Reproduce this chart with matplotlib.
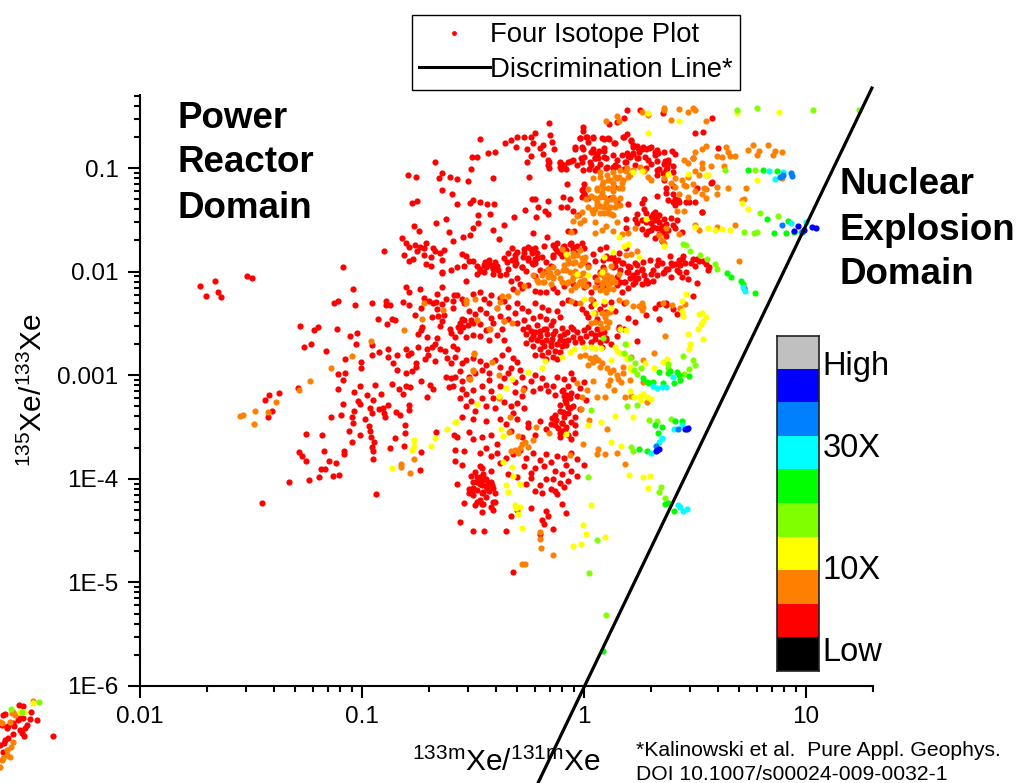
import matplotlib
matplotlib.use('Agg')
import matplotlib.pyplot as plt
import numpy as np
from matplotlib.colors import ListedColormap
from matplotlib.lines import Line2D

plt.rcParams['font.family'] = ['Liberation Sans', 'DejaVu Sans']
plt.rcParams['mathtext.fontset'] = 'custom'
plt.rcParams['mathtext.rm'] = 'Liberation Sans'
plt.rcParams['mathtext.default'] = 'regular'

# all points are (log10 133mXe/131mXe, log10 135Xe/133Xe)
red_top = [(.195,-.443),(.254,-.44),(.356,-.466),(.576,-.52),(.112,-.578),(.147,-.553),(.18,-.52),(-.158,-.569),(-.006,-.601),(-.003,-.64),
(.501,-.665),(.536,-.649),(-.467,-.723),(-.358,-.755),(-.329,-.73),(-.3,-.697),(-.269,-.697),(-.305,-.794),(-.239,-.697),(-.221,-.665),
(-.23,-.762),(-.257,-.82),(-.186,-.778),(-.198,-.81),(-.155,-.684),(-.146,-.752),(-.135,-.816),(-.186,-.865),(-.24,-.884),(-.257,-.939),
(-.431,-.858),(-.403,-.849),(-.506,-.89),(-.481,-.89),(-.673,-.939),(-.509,-1.013),(-.641,-1.051),(-.652,-1.096),(-.602,-1.09),(-.571,-1.103),
(-.523,-1.125),(-.41,-1.096),(-.248,-1.083),(-.794,-1.07),(-.758,-1.087),(-.641,-1.212),(-.596,-1.254),(-.776,-1.341),(-.751,-1.315),(-.574,-1.347),
(-.512,-1.341),(-.499,-1.309),(-.469,-1.325),(-.436,-1.347),(-.404,-1.347),(-.236,-1.302),(-.221,-1.302),(-.161,-1.318),(-.209,-1.373),(-.266,-1.405),
(-.174,-1.412),(-.164,-1.447),(-.314,-1.47),(-.216,-1.473),(-.093,-1.283),(-.063,-1.302),(-.105,-1.373),(-.078,-1.373),(-.051,-1.412),(-.029,-1.453),
(-.479,-1.457),(-.425,-1.447),(-.622,-1.495),(-.665,-1.534),(-.479,-1.534),(-.766,-1.56),(-.745,-1.611),(-.607,-1.618),(-.412,-1.598),(-.359,-1.55),
(-.499,-1.582),(-.515,-1.65),(-.544,-1.669),(-.592,-1.701),(-.383,-1.682),(-.231,-1.624),(-.168,-1.663),(-.074,-1.611),(-.045,-1.611)]
red_upper_dense = [(-.02,-.71),(.01,-.7),(.04,-.71),(-.04,-.8),(-.01,-.8),(.04,-.82),(.08,-.71),(.11,-.71),(.14,-.76),(.18,-.7),
(.21,-.73),(.22,-.8),(.24,-.79),(.26,-.82),(.22,-.86),(.25,-.85),(.28,-.82),(.3,-.8),(.33,-.83),(.36,-.85),(.32,-.87),(.24,-.9),(.2,-.88),
(.17,-.87),(.13,-.87),(.09,-.84),(.06,-.86),(.03,-.85),(.0,-.89),(.05,-.9),(.1,-.9),(.15,-.92),(.19,-.94),(.23,-.97),(.29,-.92),(.33,-.93),(.36,-.96),
(.38,-.95),(.4,-.98),(.37,-1.02),(.4,-1.04),(.34,-1.01),(.28,-1.0),(.14,-.97),(.07,-.96),(.03,-.97),(-.03,-.97),(-.06,-.93),(-.09,-.97),(-.11,-.94),
(-.16,-.92),(-.16,-.97),(-.11,-.99),(-.08,-1.01),(-.01,-.94),(.06,-1.0),(.1,-1.0),(.13,-1.0),(.18,-1.01),(.41,-.86),(.33,-1.07),(.36,-1.12),(.4,-1.17),
(.37,-1.24),(.57,-1.14),(.51,-1.19),(.0,-1.15),(-.01,-1.21),(.0,-1.25),(.02,-1.29),(.15,-1.33),(.2,-1.35),(.26,-1.34),(.27,-1.3),(.33,-1.27),(.38,-1.31),
(.41,-1.3),(.43,-1.33),(.46,-1.33),(.5,-1.33),(.53,-1.42),(.27,-1.4),(.24,-1.44),(.23,-1.49),(.24,-1.53),(.19,-1.49),(.19,-1.58),(.26,-1.59),(.29,-1.61)]
red_upper_extra = [(-.018,-.714),(.012,-.698),(.019,-.746),(.042,-.704),(.09,-.723),(.114,-.723),(.135,-.762),(.177,-.698),(.192,-.675),(.214,-.736),(.222,-.778),(-.041,-.82),(-.006,-.82),
(.042,-.849),(.067,-.833),(.09,-.81),(.091,-.891),(.065,-.907),(.049,-.9),(.026,-.939),(-.014,-.9),(-.071,-.939),(-.049,-.923),(-.109,-.955),(-.094,-.972),(-.158,-.939),(-.158,-.997),(-.104,-1.01),
(-.006,-1.02),(.024,-1.013),(.049,-1.02),(.102,-.988),(.132,-.988),(.155,-.994),(.185,-.939),(.207,-.891),(.192,-.859),(.222,-.859),(.245,-.81),(.267,-.794),(.294,-.81),(.32,-.843),(.335,-.859),
(.245,-.907),(.275,-.891),(.3,-.962),(.328,-1.02),(.365,-.933),(.38,-.923),(.398,-.836),(.492,-.907),(.372,-1.004),(.357,-1.052),(.369,-1.197),(.4,-1.251),(.425,-1.31),(.474,-1.326),(.53,-1.422),
(.402,-1.326),(.41,-1.358),(.605,-.81),(.575,-1.139),(-.003,-1.207),(.002,-1.251),(-.075,-1.158),(.136,-1.18),(.117,-1.293),(-.011,-1.284)]
red_blob_a = [(.28,-1.43),(.3,-1.47),(.32,-1.42),(.34,-1.45),(.3,-1.53),(.32,-1.5),(.34,-1.52),(.36,-1.49),(.28,-1.52),(.26,-1.5),
(.31,-1.57),(.33,-1.58),(.35,-1.56),(.37,-1.54),(.3,-1.6),(.34,-1.64),(.36,-1.62),(.38,-1.6),(.32,-1.68),(.35,-1.7),(.39,-1.48),(.42,-1.5),(.4,-1.55),
(.41,-1.58),(.44,-1.62),(.28,-1.64),(.33,-1.47),(.31,-1.44),(.35,-1.6),(.37,-1.66)]
red_middle = [(-.82,-1.68),(-.8,-1.72),(-.79,-1.76),(-.76,-1.74),(-.74,-1.76),(-.72,-1.77),(-.71,-1.72),(-.68,-1.77),(-.67,-1.8),(-.63,-1.79),
(-.81,-1.84),(-.79,-1.9),(-.77,-1.88),(-.75,-1.8),(-.72,-1.84),(-.69,-1.86),(-.65,-1.82),(-.64,-1.89),(-.71,-1.93),(-.69,-1.95),(-.64,-2.0),(-.6,-1.98),
(-.55,-1.83),(-.53,-1.85),(-.52,-1.9),(-.5,-1.9),(-.54,-1.95),(-.48,-1.95),(-.47,-1.99),(-.45,-2.0),(-.43,-1.93),(-.41,-1.96),(-.39,-1.95),(-.45,-1.94),
(-.48,-2.02),(-.41,-2.02),(-.38,-2.03),(-.35,-2.02),(-.34,-1.97),(-.36,-1.87),(-.31,-1.88),(-.3,-1.81),(-.34,-1.82),(-.31,-1.94),(-.28,-1.96),(-.26,-1.99),
(-.23,-1.93),(-.22,-1.88),(-.25,-1.87),(-.27,-1.82),(-.21,-1.82),(-.24,-1.78),(-.27,-1.78),(-.22,-1.92),(-.19,-1.86),(-.18,-1.75),(-.14,-1.74),(-.13,-1.77),
(-.12,-1.8),(-.09,-1.75),(-.08,-1.79),(-.06,-1.72),(-.05,-1.76),(-.04,-1.82),(-.03,-1.75),(.0,-1.77),(-.1,-1.85),(-.14,-1.84),(-.17,-1.91),(-.2,-1.98),
(-.22,-2.04),(-.17,-1.99),(-.15,-1.95),(-.12,-2.0),(-.3,-2.06),(-.33,-2.09),(-.29,-2.12),(-.28,-2.16),(-.32,-2.17),(-.25,-2.13),(-.22,-2.19),(-.2,-2.2),
(-.17,-2.2),(-.14,-2.16),(-.12,-2.2),(-.09,-2.14),(-.05,-2.12),(-.02,-2.1),(.0,-2.15),(.02,-2.12),(.05,-2.05),(.06,-2.1),(.09,-2.13),(.03,-2.2),(.07,-2.16),
(.04,-1.83),(.07,-1.78),(.1,-1.76),(.1,-1.85),(.12,-1.87),(.14,-1.9),(.16,-1.82),(.19,-1.77),(.14,-1.95),(.05,-1.9),(.02,-1.94),(.17,-1.92),(.2,-1.95),
(.2,-2.0),(.23,-1.92),(.24,-2.0),(.26,-1.97),(.27,-2.03),(.23,-2.06),(.28,-2.08),(.26,-2.12),(.22,-2.12),(.2,-2.16),(.18,-2.1),(.15,-2.13),(.17,-2.2),
(.3,-2.02),(.33,-1.94),(.35,-1.92),(.37,-1.97),(.39,-1.92),(.41,-1.93),(.43,-1.89),(.36,-2.0),(.39,-2.05),(.33,-2.03),(.31,-2.09),(.38,-1.97),(.48,-1.92),
(.46,-2.0),(.43,-2.0),(.5,-1.95),(.52,-1.9),(.55,-1.93),(.56,-1.98),(.44,-2.05),(.47,-2.07),(.49,-1.88),(.51,-2.11),(.49,-2.24),(.72,-2.16),(.44,-1.88)]
red_middle_extra = [(-.469,-1.97),(-.446,-1.905),(-.427,-1.889),(-.401,-1.905),(-.424,-1.937),(-.409,-1.97),(-.442,-1.954),(-.386,-1.986),(-.349,-1.905),(-.326,-1.889),(-.304,-1.921),(-.281,-1.954),(-.311,-1.84),
(-.326,-1.776),(-.251,-1.76),(-.236,-1.825),(-.221,-1.776),(-.213,-1.873),(-.236,-1.921),(-.273,-1.857),(-.251,-1.889),(-.123,-1.728),(-.093,-1.76),(-.063,-1.735),(-.048,-1.793),(-.011,-1.728),(-.108,-1.825),(-.138,-1.857),
(.087,-1.889),(.109,-1.873),(.132,-1.857),(.155,-1.889),(.177,-1.921),(.207,-1.954),(.237,-1.937),(.267,-1.905),(.297,-1.889),(.335,-1.889),(.132,-1.954),(.162,-1.986),(.192,-2.002),(.222,-2.034),(.245,-2.066),(.26,-1.986),
(.207,-2.066),(.185,-2.098),(.229,-2.098),(.162,-2.098),(.147,-2.05),(.087,-1.954),(.072,-2.002),(.29,-2.098),(.282,-2.114),(.312,-1.986),(.357,-2.018),(.417,-1.986),(.455,-1.921),(.395,-1.937),(.432,-1.937),(.507,-1.881),
(.534,-1.896),(.563,-1.954),(.387,-1.851),(.447,-1.851)]
red_lower_mid = [(-.8,-2.15),(-.79,-2.2),(-.74,-2.17),(-.72,-2.25),(-.7,-2.28),(-.68,-2.3),(-.66,-2.22),(-.62,-2.26),(-.66,-2.36),(-.63,-2.42),
(-.59,-2.35),(-.57,-2.23),(-.55,-2.26),(-.54,-2.3),(-.5,-2.22),(-.47,-2.2),(-.45,-2.26),(-.43,-2.3),(-.42,-2.23),(-.38,-2.25),(-.36,-2.28),(-.34,-2.34),
(-.3,-2.3),(-.28,-2.35),(-.25,-2.38),(-.22,-2.3),(-.19,-2.34),(-.16,-2.37),(-.12,-2.38),(-.1,-2.3),(-.07,-2.27),(-.04,-2.3),(-.01,-2.36),(.01,-2.4),(.03,-2.33),
(.04,-2.28),(.07,-2.36),(.09,-2.31),(.12,-2.29),(.1,-2.39),(.14,-2.38),(.18,-2.3),(-.52,-2.38),(-.49,-2.41),(-.47,-2.36),(-.44,-2.4),(-.42,-2.45),(-.38,-2.43),
(-.56,-2.5),(-.54,-2.47),(-.5,-2.5),(-.47,-2.51),(-.44,-2.56),(-.41,-2.5),(-.37,-2.55),(-.39,-2.61),(-.36,-2.66),(-.43,-2.66),(-.47,-2.62),(-.5,-2.61),(-.53,-2.63),
(-.56,-2.57),(-.6,-2.59),(-.31,-2.4),(-.34,-2.46),(-.3,-2.5),(-.27,-2.47),(-.23,-2.45),(-.2,-2.43),(-.17,-2.46),(-.14,-2.48),(-.11,-2.44),(.02,-2.44),(.06,-2.46),
(.02,-2.53),(.06,-2.55),(.09,-2.58),(.05,-2.61),(.1,-2.64),(.16,-2.53),(.2,-2.45),(.23,-2.49),(.28,-2.42),(.32,-2.35),(.37,-2.32),(.34,-2.46),(.37,-2.3),(.34,-2.31),
(.4,-2.36),(.42,-2.41)]
red_core = [(-.274,-2.55),(-.26,-2.6),(-.25,-2.53),(-.24,-2.65),(-.22,-2.58),(-.21,-2.52),(-.2,-2.62),(-.19,-2.68),(-.18,-2.55),(-.165,-2.6),(-.15,-2.52),(-.145,-2.65),
(-.13,-2.57),(-.12,-2.7),(-.11,-2.62),(-.1,-2.54),(-.09,-2.67),(-.075,-2.58),(-.06,-2.53),(-.05,-2.63),(-.26,-2.69),(-.24,-2.57),(-.23,-2.72),(-.21,-2.66),(-.2,-2.75),
(-.18,-2.72),(-.17,-2.66),(-.16,-2.78),(-.15,-2.72),(-.14,-2.82),(-.13,-2.77),(-.11,-2.78),(-.1,-2.72),(-.12,-2.84),(-.17,-2.84),(-.19,-2.8),(-.22,-2.8),(-.09,-2.6),
(-.07,-2.66),(-.05,-2.55),(-.03,-2.58),(-.02,-2.64),(.0,-2.56),(.01,-2.62),(.03,-2.59),(.05,-2.65),(.07,-2.6),(.07,-2.68),(.03,-2.68),(-.01,-2.68),(-.04,-2.68),(-.14,-2.6),
(-.17,-2.55),(-.2,-2.57),(-.23,-2.62),(-.11,-2.66),(-.15,-2.69),(-.08,-2.71),(.1,-2.66),(.12,-2.7),(.15,-2.62),(.16,-2.55),(.18,-2.55),(.24,-2.67),(.08,-2.73)]
red_lowerleft = [(-1.731,-2.136),(-1.664,-2.087),(-1.65,-2.194),(-1.703,-2.239),(-1.635,-2.245),(-1.52,-2.039),(-1.497,-2.065),(-1.084,-1.952),(-.9,-1.798),(-1.039,-2.168),
(-1.125,-2.3),(-1.107,-2.284),(-1.032,-2.322),(-.955,-2.3),(-.892,-2.28),(-.893,-2.322),(-.874,-2.322),(-.817,-2.293),(-.788,-2.319),(-.668,-2.297),(-.641,-2.313),(-.736,-2.355),
(-.761,-2.419),(-.93,-2.457),(-.866,-2.457),(-.851,-2.467),(-.889,-2.509),(-.686,-2.435),(-.656,-2.429),(-.641,-2.474),(-.649,-2.525),(-.728,-2.538),(-.736,-2.564),(-.746,-2.605),
(-.706,-2.634),(-.664,-2.644),(-1.279,-2.525),(-1.216,-2.564),(-1.197,-2.538),(-1.114,-2.557),(-1.054,-2.618),(-1.024,-2.596),(-1.26,-2.724),(-1.231,-2.702),(-1.162,-2.763),(-1.027,-2.702),
(-.955,-2.712),(-.957,-2.808),(-.924,-2.779),(-.882,-2.744),(-.882,-2.827),(-.844,-2.808),(-.803,-2.747),(-1.078,-2.847),(-1.005,-2.872),(-1.005,-2.927),(-1.11,-2.988),(-1.075,-2.975),
(-1.084,-3.046),(-.859,-2.885),(-.842,-2.946),(-.803,-2.975),(-.776,-2.959),(-.758,-2.885),(-.757,-2.924),(-.791,-2.805),(-.781,-2.789),(-.746,-2.731),(-.716,-2.847),(-.701,-2.805),
(-.709,-2.75),(-.686,-2.724),(-.671,-2.702),(-.649,-2.75),(-.626,-2.763),(-.671,-2.86),(-.619,-2.837),(-.589,-2.718),(-.57,-2.75),(-.581,-2.628),(-.604,-2.557),(-.566,-2.538),(-.544,-2.531),
(-.521,-2.519),(-.548,-2.461),(-.51,-2.47),(-.586,-2.226),(-.592,-2.284),(-.641,-2.145),(-.641,-2.017),(-.574,-1.959),(-.53,-2.09),(-1.287,-3.127),(-1.419,-3.188),(-1.372,-3.175),(-1.437,-3.239),
(-1.404,-3.345),(-1.424,-3.4),(-1.14,-3.406),(-1.095,-3.387),(-1.087,-3.278),(-1.11,-3.133),(-1.038,-3.159),(-1.009,-3.101),(-.942,-3.091),(-.866,-3.085),(-.832,-3.136),(-.803,-3.104),(-.784,-3.114),
(-.814,-3.181),(-.734,-3.053),(-.694,-3.091),(-.682,-3.136),(-.709,-3.21),(-.623,-3.014),(-.607,-3.11),(-.976,-3.191),(-.952,-3.239),(-.916,-3.184),(-1.02,-3.252),(-1.009,-3.281),(-1.035,-3.342),
(-1.044,-3.4),(-1.041,-3.464),(-1.057,-3.538),(-1.008,-3.58),(-.985,-3.426),(-.967,-3.49),(-.964,-3.535),(-.961,-3.593),(-.945,-3.648),(-.957,-3.69),(-.952,-3.728),(-.952,-3.809),(-1.047,-3.644),
(-1.182,-3.574),(-1.251,-3.571),(-1.282,-3.738),(-1.27,-3.776),(-1.254,-3.831),(-1.173,-3.735),(-1.081,-3.731),(-1.08,-3.76),(-1.147,-3.831),(-1.119,-3.844),(-1.165,-3.902),(-1.185,-3.902),(-1.195,-3.982),
(-1.237,-4.011),(-1.329,-4.027),(-1.132,-3.969),(-1.102,-3.963),(-1.452,-4.236),(-.936,-4.143),(-.964,-3.32),(-.957,-3.361),(-.922,-3.329),(-.904,-3.32),(-.884,-3.287),(-.901,-3.368),(-.895,-3.406),
(-.847,-3.352),(-.829,-3.384),(-.787,-3.291),(-.79,-3.336),(-.808,-3.484),(-.806,-3.555),(-.85,-3.603),(-.809,-3.683),(-.874,-3.702),(-.734,-3.738),(-.668,-3.551),(-.584,-3.574),(-.739,-3.915)]
red_center_low = [(-.6,-2.88),(-.58,-2.82),(-.55,-2.88),(-.53,-2.85),(-.5,-2.83),(-.47,-2.86),(-.44,-2.9),(-.43,-2.98),(-.46,-2.95),(-.49,-2.98),(-.52,-3.02),(-.55,-3.06),(-.58,-3.02),(-.56,-2.96),
(-.6,-3.03),(-.59,-3.1),(-.55,-3.13),(-.53,-3.18),(-.5,-3.14),(-.46,-3.1),(-.43,-3.05),(-.42,-3.15),(-.38,-3.1),(-.36,-3.03),(-.34,-2.98),(-.38,-2.92),(-.4,-2.85),(-.37,-2.8),(-.34,-2.75),(-.32,-2.83),
(-.3,-2.87),(-.33,-2.93),(-.29,-2.95),(-.28,-3.02),(-.31,-3.07),(-.27,-3.12),(-.31,-3.16),(-.28,-3.2),(-.24,-3.06),(-.22,-3.0),(-.19,-3.03),(-.17,-3.09),(-.2,-3.12),(-.23,-3.15),(-.16,-3.15),(-.14,-3.1),
(-.12,-3.02),(-.09,-3.04),(-.06,-2.98),(-.05,-3.04),(-.07,-3.1),(-.1,-3.15),(-.13,-3.19),(-.09,-3.2),(-.06,-3.17),(-.02,-3.12),(.0,-3.07),(-.03,-3.2),(.01,-3.24),(-.08,-3.27),(-.05,-3.3),(-.07,-3.36),(-.04,-3.4),
(-.02,-3.33),(-.09,-3.4),(-.11,-3.35),(-.13,-3.42),(-.1,-3.46),(-.06,-3.45),(-.08,-3.5),(-.04,-3.48),(-.1,-3.54),(-.07,-3.58),(-.11,-3.6),(-.04,-3.56),(-.06,-3.62),(-.2,-3.44),(-.25,-3.46),(-.17,-3.52),(-.15,-3.47),
(-.41,-3.22),(-.46,-3.22),(-.51,-3.25),(-.56,-3.22),(-.53,-3.3),(-.49,-3.35),(-.44,-3.3),(-.4,-3.32),(-.36,-3.26),(-.33,-3.3),(-.3,-3.27),(-.27,-3.32),(-.32,-3.36),(-.38,-3.42),(-.44,-3.44),(-.5,-3.42),(-.55,-3.4),
(-.35,-3.47),(-.3,-3.42),(-.25,-3.5),(-.22,-3.58),(-.28,-3.6),(-.33,-3.54),(-.42,-3.58),(-.39,-3.66),(-.46,-3.6),(-.52,-3.55),(-.57,-3.6),(-.58,-3.72),(-.54,-3.73),(-.5,-3.62),
(-.094,-3.143),(-.079,-3.191),(-.063,-3.223),(-.086,-3.239),(-.071,-3.303),(-.108,-3.287),(-.094,-3.352),(-.063,-3.32),(-.131,-3.384),(-.146,-3.416),(-.124,-3.432),(-.101,-3.464),(-.116,-3.513),(-.131,-3.48),(-.108,-3.561),(-.086,-3.529)]
red_bottom = [(-.47,-3.75),(-.44,-3.7),(-.42,-3.78),(-.39,-3.75),(-.35,-3.8),(-.32,-3.76),(-.29,-3.72),(-.26,-3.8),(-.23,-3.75),(-.2,-3.82),(-.17,-3.76),(-.15,-3.84),(-.12,-3.78),(-.09,-3.8),(-.06,-3.75),(-.03,-3.81),(.0,-3.87),(-.08,-3.87),
(-.18,-3.88),(-.22,-3.9),(-.27,-3.88),(-.24,-3.94),(-.13,-3.92),(-.1,-3.95),(-.06,-3.92),(-.03,-3.97),(-.14,-4.0),(-.11,-4.04),(-.07,-4.02),(-.09,-4.08),(-.17,-4.0),(-.2,-4.06),(-.26,-4.05),(-.22,-4.12),(-.15,-4.1),(-.12,-4.15),
(-.19,-4.14),(-.24,-3.99),(-.3,-3.98),(-.34,-3.95),(-.38,-3.85),(-.42,-3.92),(-.44,-4.0),(-.47,-3.88),(-.49,-3.93),(-.51,-3.97),(-.48,-3.98),(-.46,-4.01),(-.5,-4.03),(-.47,-4.05),(-.44,-4.07),(-.42,-4.03),(-.5,-4.09),(-.52,-4.1),
(-.48,-4.11),(-.46,-4.14),(-.43,-4.12),(-.41,-4.09),(-.4,-4.14),(-.44,-4.18),(-.47,-4.2),(-.5,-4.16),(-.52,-4.14),(-.49,-4.25),(-.46,-4.24),(-.42,-4.27),(-.4,-4.22),(-.54,-4.23),(-.57,-4.05),(-.46,-4.32),(-.41,-4.3),
(-.24,-4.28),(-.17,-4.31),(-.16,-4.36),(-.19,-4.4),(-.18,-4.44),(-.14,-4.48),(-.2,-4.53),(-.35,-4.5),(-.45,-4.5),(-.3,-4.3),(-.1,-4.24),(-.08,-4.33),(-.5,-4.5),(-.33,-4.36),(-.13,-4.12),(-.58,-3.83),(-.55,-3.87),(-.56,-4.42),(-.32,-4.9),
(-.461,-3.9),(-.454,-3.95),(-.469,-3.98),(-.446,-4.0),(-.431,-4.03),(-.416,-4.06),(-.484,-4.03),(-.461,-4.06),(-.439,-4.09),(-.506,-4.12),(-.457,-4.13),(-.484,-4.22),(-.454,-4.24),(-.409,-4.22)]
orange_levels = [(.132,-1.148),(.1,-1.34),(.11,-1.12),(.08,-1.16),(.06,-1.19),(.16,-1.09),(.19,-1.03),(.14,-1.09),(.17,-1.14),(.08,-1.24),(.11,-1.19),(.13,-1.22),(.05,-1.29),(.03,-1.27),(.02,-1.2),
(.01,-1.3),(.09,-1.28),(.06,-1.33),(.12,-1.3),(.14,-1.38),(.11,-1.4),(.09,-1.43),(.05,-1.4),(.02,-1.38),(.14,-1.31),(-.01,-1.42),(-.03,-1.46),(.07,-1.37),(.12,-1.44),(.0,-1.5),(.05,-1.52),(.1,-1.56),(.08,-1.6),(.05,-1.63),
(.15,-1.52),(.13,-1.61),(.17,-1.64),(.2,-1.63),(.23,-1.58),(.04,-1.43),(.16,-1.19),(.2,-1.09),(-.05,-1.51),(-.02,-1.53),(-.06,-1.62),(.27,-1.03),(.29,-1.09),(.3,-1.12),(.36,-1.1),(.39,-1.14),(.41,-1.1),(.44,-1.12),
(.47,-1.09),(.5,-1.03),(.52,-1.07),(.49,-1.15),(.46,-1.17),(.41,-1.18),(.43,-1.25),(.47,-1.28),(.45,-1.16),(.54,-1.19),(.55,-1.2),(.53,-1.25),(.5,-1.22),(.6,-1.25),(.45,-.92),(.47,-.95),(.49,-.9),(.53,-.82),(.5,-.85),
(.55,-.79),(.53,-.95),(.53,-1.0),(.57,-.98),(.64,-.8),(.65,-.85),(.62,-.89),(.6,-.88),(.66,-.88),(.68,-.88),(.76,-.78),(.83,-.78),(.86,-.84),(.85,-.87),(.89,-.85),(.74,-.83),(.78,-.87),(.79,-.84),(.55,-1.29),(.6,-1.18),
(.65,-1.19),(.73,-1.19),(.72,-1.3),(.63,-.98),(.36,-.42),(.43,-.43),(.47,-.46),(.49,-.42),(.5,-.44),(.36,-.44),(.29,-.49),(.39,-.54),(.26,-.46),(.55,-.55),(.15,-.5),(.1,-.55),(.16,-.55),(.89,-1.1),(.7,-1.9),(.71,-1.31),(.68,-1.55),
(.6,-1.57),(.52,-1.6),(.43,-1.64),(.37,-1.58),(.42,-1.41),(.45,-1.41),(.5,-1.55),(.34,-1.65),(.35,-1.69),(.36,-1.72),
(.072,-1.084),(.102,-1.068),(.132,-1.036),(.162,-1.02),(.192,-1.004),(.222,-1.02),(.252,-.988),(.087,-1.133),(.117,-1.116),(.147,-1.1),(.177,-1.116),(.207,-1.068),(.057,-1.213),(.087,-1.197),(.132,-1.18),(.17,-1.197),
(.072,-1.277),(.102,-1.31),(.132,-1.277),(.162,-1.293),(.057,-1.358),(.087,-1.374),(.117,-1.374),(.147,-1.358),(.035,-1.406),(.072,-1.432),(.109,-1.432),(.132,-1.455),(.162,-1.358),(.042,-1.1),(.072,-1.036)]
orange_middle = [(-.048,-1.92),(-.153,-2.016),(.102,-2.08),(-.03,-1.84),(-.05,-1.85),(-.01,-1.87),(.0,-1.9),(-.07,-1.89),(-.09,-1.94),(-.02,-1.94),(.02,-1.96),(-.04,-1.99),(-.08,-1.98),(-.12,-2.0),(-.16,-1.97),(-.19,-2.03),(-.21,-2.08),
(-.23,-2.03),(-.14,-2.05),(-.11,-2.06),(-.05,-2.05),(-.02,-2.03),(.0,-2.08),(-.07,-2.1),(-.1,-2.1),(.01,-2.14),(-.03,-2.13),(-.06,-2.18),(-.15,-2.12),(-.18,-2.1),(.07,-2.02),(.09,-1.98),(.12,-1.95),(.09,-2.05),(.12,-2.05),
(.06,-2.08),(.08,-2.12),(.11,-2.13),(.14,-2.1),(.07,-2.18),(.1,-2.2),(.13,-2.17),(.05,-2.15),(-.27,-2.14),(-.3,-2.2),(-.34,-2.24),(-.37,-2.24),(.16,-2.02),(.19,-1.84),(.24,-1.8),(.21,-1.83),(-.1,-1.78),(.03,-2.26),(-.06,-2.28),
(-.02,-2.3),(.16,-2.27),(.19,-2.29),(.26,-2.3),(.22,-2.33),(.25,-2.33),(.26,-2.37),(-.38,-2.29),(-.72,-2.3),(-.48,-2.47),(-.49,-2.26),(-.53,-2.27),(.07,-2.5),(.05,-2.4),(.03,-2.5),(.1,-2.48),(.08,-2.4),
(-.184,-2.018),(-.161,-1.986),(-.138,-1.954),(-.123,-2.002),(-.161,-2.05),(-.184,-2.098),(-.207,-2.098),(-.138,-2.066),(-.078,-1.857),(-.048,-1.825),(-.018,-1.793),(.004,-1.857),(-.071,-1.921),(-.041,-1.905),(-.011,-1.921),
(-.063,-2.002),(-.033,-2.034),(-.003,-2.018),(-.056,-2.082),(-.018,-2.098),(-.078,-2.114),(-.041,-2.147),(-.003,-2.13),(-.093,-1.986),(.102,-2.034),(.087,-2.098),(.117,-2.114),(.109,-2.163),(.132,-2.082),(.079,-2.163)]
orange_low = [(-.823,-3.857),(-.823,-3.889),(-.766,-3.809),(-.784,-3.947),(-1.55,-3.394),(-1.536,-3.387),(-1.484,-3.345),(-1.487,-3.471),(-1.422,-3.352),(-1.387,-3.255),(-1.285,-3.146),(-1.234,-3.053),(-1.14,-2.934),(-1.044,-2.811),(-.961,-2.673),
(-.812,-2.564),(-.73,-2.461),(-.637,-2.374),(-.532,-2.3),(-.393,-2.355),(-.36,-2.474),(-.427,-2.557),(-.496,-2.789),(-.499,-2.956),(-.517,-3.037),(-.394,-2.354),(-.361,-2.473),(-.322,-2.499),(-.424,-2.557),(-.496,-2.795),(-.413,-2.869),
(-.499,-2.95),(-.514,-3.033),(-.383,-2.998),(-.274,-3.143),(-.383,-3.223),(-.334,-3.4),(-.337,-3.545),(-.296,-3.583),(-.229,-3.625),(-.157,-3.561),(-.214,-3.503),(-.329,-3.728),(-.311,-3.722),(-.289,-3.706),(-.278,-3.664),(-.266,-3.641),
(-.296,-3.754),(-.254,-3.696),(-.063,-3.77),(-.003,-3.664),(-.015,-3.326),(.024,-3.432),(.105,-3.522),(.057,-3.76),(.063,-3.715),(.094,-3.76),(.15,-3.747),(.184,-3.857),(-.196,-4.513),(-.2,-4.584),(-.194,-4.671),(-.139,-4.732),(-.281,-4.822),
(-.266,-4.822),(.364,-2.618),(.316,-2.789),(.282,-3.255),(-.018,-2.815),(.004,-2.805),(.027,-2.837),(.042,-2.869),(.064,-2.853),(.079,-2.885),(.102,-2.934),(.132,-2.95),(.177,-2.975),(.154,-3.04),(.117,-3.046),(.109,-3.094),(.042,-3.056),
(.012,-3.143),(-.011,-3.207),(.057,-3.207),(.094,-3.207),(.135,-3.143),(.184,-3.213),(.214,-3.2),(.207,-3.046),(.177,-2.917),(.214,-2.821),(.267,-2.853),(.264,-3.062),(-.033,-3.078),(.05,-2.821),(.072,-2.917),(.117,-2.966),(.147,-2.998),
(.169,-3.062),(.019,-2.902),(.102,-2.403),(.117,-2.387),(.094,-2.435),(.114,-2.483),(.104,-2.53),(.049,-2.483),(.079,-2.548),(.267,-2.338),(.357,-2.306),(.395,-2.322),(.432,-2.354),(.455,-2.313)]
yellow_pts = [(.518,-2.409),(.537,-2.477),(.525,-2.506),(.515,-2.557),(.468,-2.605),(.537,-2.654),(.477,-2.702),(.474,-2.744),(.443,-2.377),(.447,-2.428),(.162,-2.551),(.189,-2.564),(.142,-2.724),(.147,-2.763),(.192,-2.699),(.162,-2.782),
(.184,-2.805),(.192,-2.847),(.12,-2.853),(.001,-2.724),(.03,-2.724),(.049,-2.734),(.076,-2.74),(-.044,-2.747),(-.063,-2.773),(-.098,-2.821),(-.176,-2.863),(-.188,-2.934),(-.254,-2.972),(-.326,-3.04),(-.352,-3.127),(-.383,-3.197),(-.481,-3.281),
(-.58,-3.448),(-.374,-3.516),(-.364,-3.587),(-.367,-3.841),(-.323,-3.883),(-.319,-3.973),(-.353,-4.063),(-.286,-4.053),(-.34,-4.124),(-.311,-4.252),(-.304,-4.285),(-.289,-4.275),(-.299,-4.343),(-.277,-4.478),(.03,-4.249),(-.006,-4.442),(.009,-4.536),
(-.012,-4.629),(-.051,-4.645),(.094,-4.558),(.202,-3.96),(.267,-3.979),(.298,-3.973),(.289,-4.092),(.169,-3.683),(.124,-3.648),(.019,-3.477),(.078,-3.455),(.138,-3.397),(-.083,-3.567),(.219,-3.4),(.252,-3.2),(.267,-3.184),(.259,-3.239),
(.282,-3.213),(.301,-3.229),(.226,-3.207),(.207,-3.149),(.315,-2.934),(.354,-2.869),(.372,-2.84),(.274,-2.885),(.207,-2.917),(.214,-2.95),(-.764,-3.622),(-.766,-3.68),(-.773,-3.722),(-.691,-3.683),(-.673,-3.606),(-.616,-3.522),(-.578,-3.448),(-.864,-3.895),
(.29,-.47),(.43,-.55),(.69,-.47),(.88,-.46),(.29,-.66),(.38,-1.06),(.47,-1.06),(.55,-1.07),(.56,-1.07),(.26,-1.03),(.22,-1.04),(.78,-1.12),(.71,-1.34),(.74,-1.4),(.5,-1.57),(.56,-1.58),(.59,-1.6),(.66,-1.6),(.62,-1.59),(.28,-1.49),
(.25,-1.86),(.18,-1.75),(.2,-1.73),(.36,-1.75),(.13,-1.81),(.09,-1.86),(-.08,-1.83),(-.03,-2.02),(.02,-2.03),(.0,-2.26),(.05,-2.31),(.09,-2.28),(.12,-2.35),(.04,-2.4),(.46,-2.22),(.44,-2.28),(.53,-2.4),(.55,-2.44),(.08,-2.0),(.16,-1.67)]
lime_pts = [(.689,-.437),(.781,-.421),(1.033,-.44),(1.24,-.437),(.636,-1.019),(.77,-1.019),(.793,-1.437),(.875,-1.466),(.722,-1.621),(.767,-1.627),(.781,-1.621),(.444,-1.73),(.458,-1.74),(.477,-1.804),(.522,-1.836),(.554,-1.881),(.591,-1.926),(.599,-1.975),
(.031,-3.332),(.192,-3.3),(.24,-3.287),(.291,-3.432),(.327,-3.439),(.394,-3.426),(.211,-3.696),(.222,-3.731),(.019,-3.979),(.345,-4.075),(.339,-4.13),(.364,-4.188),(.06,-4.59),(.021,-4.909),(.447,-2.811),(.492,-2.853),(.5,-2.901),(.474,-2.94),(.452,-2.988),
(.377,-2.892),(.379,-2.934),(.229,-2.885),(.259,-2.934),(.237,-2.988),(.184,-2.699),(.087,-2.644),(.18,-2.789),(.207,-2.831),(.226,-2.95),(.1,-5.31)]
green_pts = [(.739,-1.019),(.808,-1.022),(.871,-1.026),(.823,-1.489),(.919,-1.508),(.857,-1.627),(.91,-1.624),(.947,-1.621),(.645,-2.016),(.664,-2.055),(.707,-2.09),(.718,-2.119),(.77,-2.206),(.267,-3.03),(.285,-3.062),(.312,-3.062),(.291,-3.078),(.337,-2.966),
(.379,-2.982),(.387,-2.956),(.417,-2.966),(.428,-2.998),(.432,-3.046),(.405,-3.072),(.354,-3.078),(.473,-3.004),(.41,-3.445),(.443,-3.442),(.319,-3.477),(.352,-3.496),(.334,-3.554),(.247,-3.712),(.282,-3.728),(.364,-4.246),(.379,-4.23),(.405,-4.307),(.086,-5.66)]
cyan_pts = [(.405,-3.516),(.44,-3.484),(.352,-3.609),(.339,-3.641),(.3,-3.754),(.312,-3.104),(.327,-3.127),(.352,-3.11),(.369,-3.11),(.399,-3.014),(.425,-4.252),(.432,-4.275),(.444,-4.314),(.462,-4.291),(.833,-1.032),(.86,-1.109),(.898,-1.035),(.931,-1.534),(1.0,-1.518),(.976,-1.614),(.718,-2.152),(.725,-2.19)]
skyblue_pts = [(.423,-3.522),(.324,-3.683),(.89,-1.077),(.883,-1.09),(.898,-1.067),(.932,-1.051),(.935,-1.077),(.893,-1.547),(.98,-1.614)]
blue_pts = [(.462,-3.516),(.455,-3.522),(.468,-3.513),(.33,-3.722),(.324,-3.728),(.339,-3.709),(.965,-1.56),(.947,-1.605),(.992,-1.598),(1.025,-1.566),(1.043,-1.582)]

# little piece of another plot sticking in at the bottom left corner (picture units)
corner_red = [(160,227),(110,180),(93,155),(58,135),(68,138),(15,162),(8,165),(60,175),(70,175),(90,178),(80,195),(75,205),(60,210),(72,228),(40,190),(42,197),(40,222),(25,198),(20,205),(15,240),(25,235),(10,275),(22,200),(55,180),(5,195),(65,220),(12,250),(0,255)]
corner_orange = [(40,155),(35,160),(45,165),(30,185),(5,190),(0,185),(40,245),(32,260),(20,285),(30,292),(10,295),(0,320),(5,300),(20,270),(100,122)]
corner_yellow = [(100,128),(60,155),(72,155)]
corner_lime = [(118,125),(32,148),(65,155)]

line_logx = [-.207, 1.297]
line_logy = [-6.936, -.228]

x_ticks = [0.01, 0.1, 1, 10]
x_labels = ['0.01', '0.1', '1', '10']
y_ticks = [1e-6, 1e-5, 1e-4, 1e-3, 1e-2, 1e-1]
y_labels = ['1E-6', '1E-5', '1E-4', '0.001', '0.01', '0.1']

scale_colors = ['#000000', '#ff0000', '#ff8000', '#ffff00', '#80ff00', '#00ff00', '#00ffff', '#0080ff', '#0000ff', '#c0c0c0']
scale_ticks = [0.66, 3.1, 6.74, 9.2]
scale_labels = ['Low', '10X', '30X', 'High']

W, H = 1021.0, 783.0
fig = plt.figure(figsize=(W / 100, H / 100), dpi=100)
ax = fig.add_axes([140 / W, 1 - 686 / H, 733 / W, 591 / H])

all_red = (red_top + red_upper_dense + red_upper_extra + red_blob_a + red_middle + red_middle_extra
           + red_lower_mid + red_core + red_lowerleft + red_center_low + red_bottom)
groups = [(all_red, '#ff0000'),
          (orange_levels + orange_middle + orange_low, '#ff8000'),
          (yellow_pts, '#ffff00'), (lime_pts, '#80ff00'), (green_pts, '#00ff00'),
          (cyan_pts, '#00ffff'), (skyblue_pts, '#0080ff'), (blue_pts, '#0000ff')]
for pts, col in groups:
    p = np.array(pts)
    ax.scatter(10 ** p[:, 0], 10 ** p[:, 1], s=20, color=col, linewidths=0, zorder=3)

ax.plot(10 ** np.array(line_logx), 10 ** np.array(line_logy), color='black', lw=2.3, clip_on=False, zorder=4)

ax.set_xscale('log')
ax.set_yscale('log')
ax.set_xlim(0.01, 10 ** 1.302)
ax.set_ylim(1e-6, 10 ** -0.295)
ax.set_xticks(x_ticks)
ax.set_xticklabels(x_labels)
ax.set_yticks(y_ticks)
ax.set_yticklabels(y_labels)
ax.tick_params(which='major', length=8.5, width=1.5, labelsize=17.5)
ax.tick_params(axis='y', which='major', pad=7)
ax.tick_params(axis='x', which='major', pad=6)
ax.tick_params(which='minor', length=4.5, width=1.5, labelbottom=False, labelleft=False)
ax.xaxis.set_minor_locator(matplotlib.ticker.LogLocator(base=10, subs=range(2, 10), numticks=20))
ax.yaxis.set_minor_locator(matplotlib.ticker.LogLocator(base=10, subs=range(2, 10), numticks=20))
ax.xaxis.set_minor_formatter(matplotlib.ticker.NullFormatter())
ax.yaxis.set_minor_formatter(matplotlib.ticker.NullFormatter())
for s in ['top', 'right']:
    ax.spines[s].set_visible(False)
for s in ['left', 'bottom']:
    ax.spines[s].set_linewidth(1.5)

ax.set_xlabel(r'$^{133m}$Xe/$^{131m}$Xe', fontsize=21.5)
ax.xaxis.set_label_coords(0.5, -0.105)
ax.set_ylabel(r'$^{135}$Xe/$^{133}$Xe', fontsize=21.5)
ax.yaxis.set_label_coords(-0.125, 0.5)

handles = [Line2D([], [], ls='none', marker='o', ms=3.5, color='#ff0000', mew=0),
           Line2D([], [], color='black', lw=2.2)]
fig.legend(handles, ['Four Isotope Plot', 'Discrimination Line*'], loc='upper left',
           bbox_to_anchor=(412 / W, 1 - 15 / H), fontsize=19.8, frameon=True, fancybox=False,
           edgecolor='black', framealpha=1, borderaxespad=0, borderpad=0.27, handlelength=2.55,
           handletextpad=0.03, labelspacing=0.3).get_frame().set_linewidth(1)

for label, x0, y0 in [('Power', 177, 118), ('Reactor', 177, 163), ('Domain', 177, 208),
                      ('Nuclear', 839, 185), ('Explosion', 839, 230), ('Domain', 839, 275)]:
    fig.text(x0 / W, 1 - y0 / H, label, fontsize=26.5, fontweight='bold', va='center', ha='left')

fig.text(636 / W, 1 - 751 / H, '*Kalinowski et al.  Pure Appl. Geophys.', fontsize=15.2, va='center')
fig.text(636 / W, 1 - 775 / H, 'DOI 10.1007/s00024-009-0032-1', fontsize=15.2, va='center')

# colour scale
cax = fig.add_axes([777 / W, 1 - 671 / H, 42 / W, 335 / H])
cax.imshow(np.arange(len(scale_colors)).reshape(-1, 1), origin='lower', aspect='auto',
           cmap=ListedColormap(scale_colors), extent=[0, 1, 0, len(scale_colors)])
cax.set_xticks([])
cax.set_yticks(scale_ticks)
cax.set_yticklabels(scale_labels)
cax.yaxis.tick_right()
cax.tick_params(axis='y', length=0, labelsize=23.5, pad=2.5)
for s in cax.spines.values():
    s.set_linewidth(1.2)
    s.set_color('#222222')

# corner scrap
corner = fig.add_axes([0, 0, 60 / W, 123 / H])
corner.set_xlim(0, 180)
corner.set_ylim(369, 0)
corner.axis('off')
for pts, col in [(corner_red, '#ff0000'), (corner_orange, '#ff8000'), (corner_yellow, '#ffff00'), (corner_lime, '#80ff00')]:
    p = np.array(pts)
    corner.scatter(p[:, 0], p[:, 1], s=20, color=col, linewidths=0)

fig.savefig('out.png', dpi=100)
